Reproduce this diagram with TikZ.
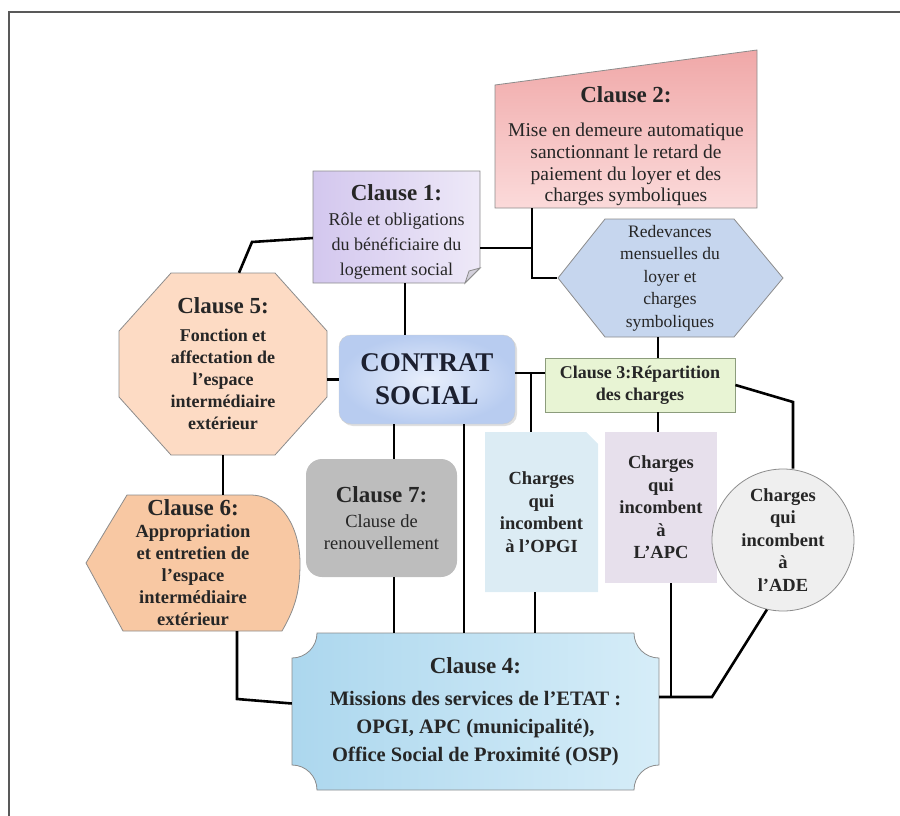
\documentclass[tikz,border=0pt]{standalone}
\usepackage{fontspec}
\setmainfont{Liberation Serif}
\usepackage{xcolor}
\usetikzlibrary{backgrounds,shadows}

\definecolor{rosea}{RGB}{240,168,168}
\definecolor{roseb}{RGB}{251,218,218}
\definecolor{lilaca}{RGB}{211,199,238}
\definecolor{lilacb}{RGB}{238,233,248}
\definecolor{hexblue}{RGB}{198,214,238}
\definecolor{peach}{RGB}{253,219,196}
\definecolor{peachdark}{RGB}{248,200,163}
\definecolor{contratin}{RGB}{232,239,252}
\definecolor{contratout}{RGB}{184,204,240}
\definecolor{contrattext}{RGB}{28,32,48}
\definecolor{lightgreen}{RGB}{232,244,212}
\definecolor{greenline}{RGB}{140,156,124}
\definecolor{greybox}{RGB}{189,189,189}
\definecolor{opgiblue}{RGB}{220,236,244}
\definecolor{apclilac}{RGB}{231,224,236}
\definecolor{adegrey}{RGB}{239,239,239}
\definecolor{missiona}{RGB}{172,215,238}
\definecolor{missionb}{RGB}{214,237,248}

\newcommand{\cltitle}[1]{{\fontsize{23}{26}\selectfont\bfseries #1}}

\begin{document}
\begin{tikzpicture}[x=1pt, y=-1pt, font=\fontsize{18}{22}\selectfont,
    box node/.style={align=center, inner sep=0pt, text=black!85},
    link/.style={line width=2.6pt, black},
    outline/.style={draw=black!45, line width=0.8pt}]

  \useasboundingbox (0,0) rectangle (900,816);

  % clauses
  \node[box node, minimum width=262pt, minimum height=123pt,
        font=\fontsize{19.5}{21.7}\selectfont] (c2) at (626,146.5)
        {\cltitle{Clause 2:}\\[12pt] Mise en demeure automatique\\ sanctionnant le retard de\\
         paiement du loyer et des\\ charges symboliques};
  \node[box node, minimum width=167pt, minimum height=112pt,
        font=\fontsize{18}{25}\selectfont] (c1) at (396.5,227)
        {\mbox{}\\[1pt]\cltitle{Clause 1:}\\ Rôle et obligations\\ du bénéficiaire du\\ logement social};
  \node[box node, minimum width=225pt, minimum height=118pt,
        font=\fontsize{17.5}{22.5}\selectfont] (redev) at (670,278)
        {Redevances\\ mensuelles du\\ loyer et\\ charges\\ symboliques};
  \node[box node, minimum width=208pt, minimum height=182pt,
        font=\bfseries\fontsize{18}{22}\selectfont] (c5) at (223,364)
        {\cltitle{Clause 5:}\\[6pt] Fonction et\\ affectation de\\ l’espace\\ intermédiaire\\ extérieur};
  \node[box node, minimum width=176pt, minimum height=89pt, rounded corners=12pt,
        draw=black!20, inner color=contratin, outer color=contratout,
        drop shadow={opacity=0.25, shadow xshift=2pt, shadow yshift=-2pt},
        text=contrattext, font=\bfseries\fontsize{27}{33}\selectfont] (contrat) at (427,379.5)
        {CONTRAT\\ SOCIAL};
  \node[box node, minimum width=190pt, minimum height=54pt, fill=lightgreen,
        draw=greenline, line width=0.8pt,
        font=\bfseries\fontsize{18}{22}\selectfont] (c3) at (640,385)
        {Clause 3:Répartition\\ des charges};
  \node[box node, minimum width=151pt, minimum height=118pt, rounded corners=16pt,
        fill=greybox, font=\fontsize{18.5}{22}\selectfont] (c7) at (381.5,518)
        {\cltitle{Clause 7:}\\[3pt] Clause de\\ renouvellement};
  \node[box node, minimum width=113pt, minimum height=160pt,
        font=\bfseries\fontsize{18.5}{22.5}\selectfont] (opgi) at (541.5,512)
        {Charges\\ qui\\ incombent\\ à l’OPGI};
  \node[box node, minimum width=112pt, minimum height=151pt, fill=apclilac,
        font=\bfseries\fontsize{18.5}{22.5}\selectfont] (apc) at (661,507.5)
        {Charges\\ qui\\ incombent\\ à\\ L’APC};
  \node[box node, circle, minimum size=142pt, fill=adegrey, draw=black!45, line width=0.8pt,
        font=\bfseries\fontsize{18.5}{22.5}\selectfont] (ade) at (783,540)
        {Charges\\ qui\\ incombent\\ à\\ l’ADE};
  \node[box node, minimum width=214pt, minimum height=136pt,
        font=\bfseries\fontsize{18.5}{22}\selectfont] (c6) at (193,563)
        {\cltitle{Clause 6:}\\ Appropriation\\ et entretien de\\ l’espace\\ intermédiaire\\ extérieur};
  \node[box node, minimum width=367pt, minimum height=157pt,
        font=\bfseries\fontsize{20.5}{28}\selectfont] (c4) at (475.5,711.5)
        {\cltitle{Clause 4:}\\[4pt] Missions des services de l’ETAT :\\
         OPGI, APC (municipalité),\\ Office Social de Proximité (OSP)};

  % shapes behind the texts
  \begin{scope}[on background layer]
    \draw[line width=1.6pt, black!65] (9,816) -- (9,12) -- (900,12);
    \draw[outline, top color=rosea, bottom color=roseb]
      (495,208) -- (495,85) -- (757,50) -- (757,208) -- cycle;
    \draw[outline, left color=lilaca, right color=lilacb]
      (313,171) -- (480,171) -- (480,268) -- (465,283) -- (313,283) -- cycle;
    \draw[outline, fill=lilaca!70!black!40] (480,268) -- (469,271) -- (465,283) -- cycle;
    \draw[outline, fill=hexblue]
      (558,278) -- (605,219) -- (734,219) -- (783,278) -- (734,337) -- (605,337) -- cycle;
    \draw[outline, fill=peach]
      (171,273) -- (275,273) -- (327,331) -- (327,397) -- (275,455) -- (171,455)
      -- (119,397) -- (119,331) -- cycle;
    \fill[opgiblue] (485,432) -- (586,432) -- (598,444) -- (598,592) -- (485,592) -- cycle;
    \draw[outline, fill=peachdark]
      (123,631) -- (86,563) -- (127,495) -- (250,495) to[out=0,in=90] (300,563)
      to[out=-90,in=60] (282,631) -- cycle;
    \draw[outline, left color=missiona, right color=missionb]
      (317,633) -- (634,633) arc[start angle=180, end angle=270, radius=25pt]
      -- (659,765) arc[start angle=90, end angle=180, radius=25pt]
      -- (317,790) arc[start angle=0, end angle=90, radius=25pt]
      -- (292,658) arc[start angle=-90, end angle=0, radius=25pt] -- cycle;
  \end{scope}

  % junctions
  \coordinate (k1) at (252,242);
  \coordinate (k2) at (405,300);
  \coordinate (k3) at (394,440);
  \coordinate (k4) at (464,440);
  \coordinate (k5) at (535,600);
  \coordinate (j1) at (532,248);
  \coordinate (j2) at (531,373);
  \coordinate (j3) at (658,347);
  \coordinate (j4) at (671,697);
  \coordinate (j5) at (712,697);
  \coordinate (j6) at (793,402);
  \coordinate (j7) at (237,699);

  % links
  \draw[link] ([yshift=-11pt]c1.west) -- (k1) -- ([xshift=16pt]c5.north);
  \draw[link] (c1.east |- j1) -- (j1);
  \draw[link] (j1 |- c2.south) -- (j1 |- redev.west) -- (redev.west);
  \draw[link] (k2 |- c1.south) -- (k2 |- contrat.north);
  \draw[link] (c5.east |- contrat.west) -- (contrat.west);
  \draw[link] (c5.south) -- (c5.south |- c6.north);
  \draw[link] (c6.south -| j7) -- (j7) -- ([yshift=8pt]c4.west);
  \draw[link] (k3 |- contrat.south) -- (k3 |- c7.north);
  \draw[link] (k3 |- c7.south) -- (k3 |- c4.north);
  \draw[link] (k4 |- contrat.south) -- (k4 |- c4.north);
  \draw[link] (contrat.east |- j2) -- (c3.west |- j2);
  \draw[link] (j2) -- (j2 |- opgi.north);
  \draw[link] (k5 |- opgi.south) -- (k5 |- c4.north);
  \draw[link] (j3 |- redev.south) -- (j3 |- c3.north);
  \draw[link] (j3 |- c3.south) -- (j3 |- apc.north);
  \draw[link] (j4 |- apc.south) -- (j4);
  \draw[link] (c4.east |- j4) -- (j5) -- (ade.257);
  \draw[link] (c3.east) -- (j6) -- (j6 |- ade.north);
\end{tikzpicture}
\end{document}
